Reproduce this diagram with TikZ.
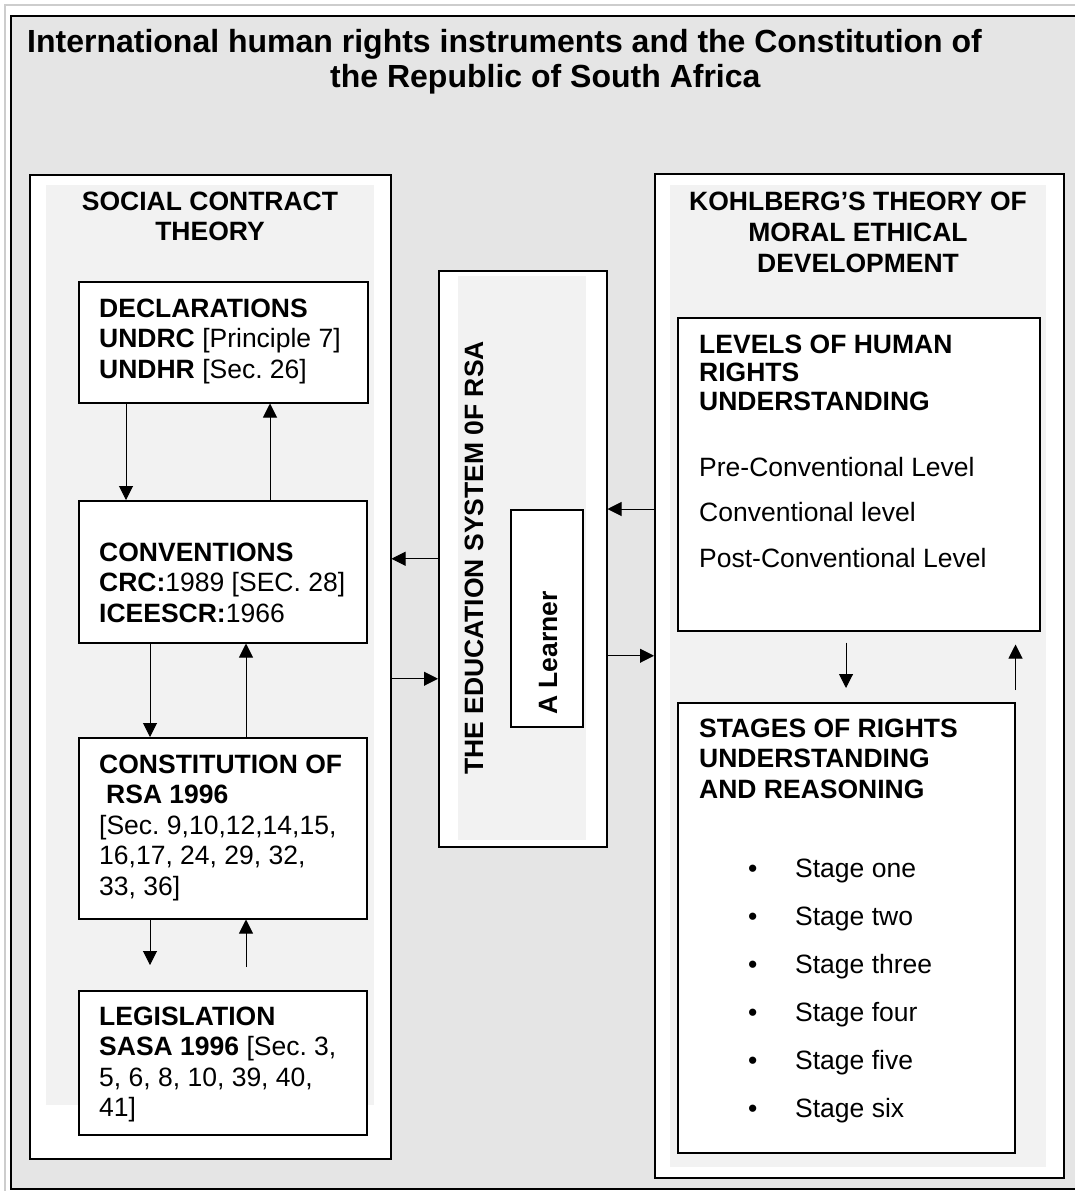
\documentclass[tikz,border=0pt]{standalone}
\usepackage{fontspec}
\setmainfont{Liberation Sans}
\usetikzlibrary{arrows.meta,calc}
\definecolor{bggray}{HTML}{E5E5E5}
\definecolor{panelgray}{HTML}{F2F2F2}
\definecolor{edgegray}{HTML}{CDCDCD}
\frenchspacing
\newcommand{\boxfont}{\fontsize{26.5}{30.5}\selectfont}
\tikzset{
  pin/.style={line width=1pt,-{Triangle[length=14pt,width=14pt]}},
  frame/.style={draw, line width=1.5pt, fill=white, anchor=north west, inner sep=0pt},
  panel/.style={fill=panelgray, anchor=north west, inner sep=0pt},
  txt/.style={anchor=base west, inner sep=0pt, align=left, font=\boxfont},
  head/.style={txt, anchor=base, align=center, font=\boxfont\bfseries},
}

\begin{document}
\begin{tikzpicture}[x=1pt,y=-1pt]
  \useasboundingbox (0,0) rectangle (1075,1191);
  \clip (0,0) rectangle (1075,1191);
  % page frame
  \draw[edgegray, line width=1.5pt] (5,5) rectangle (1090,1200);
  \draw[line width=1.5pt, fill=bggray] (11,16) rectangle (1090,1189);
  \node[txt, font=\fontsize{32}{34}\selectfont\bfseries] (title1) at (27,52)
    {International human rights instruments and the Constitution of};
  \node[txt, font=\fontsize{32}{34}\selectfont\bfseries] (title2) at (330,87)
    {the Republic of South Africa};

  % three columns
  \node[frame, minimum width=361pt, minimum height=984pt] (social) at (29,174) {};
  \node[panel, minimum width=328pt, minimum height=920pt] (socialbg) at (46,185) {};
  \node[frame, minimum width=168pt, minimum height=576pt] (edu) at (438,270) {};
  \node[panel, minimum width=128pt, minimum height=564pt] (edubg) at (458,276) {};
  \node[frame, minimum width=409pt, minimum height=1004pt] (kohl) at (654,173) {};
  \node[panel, minimum width=376pt, minimum height=982pt] (kohlbg) at (670,185) {};

  % social contract side (multi-line text sits on its last baseline)
  \node[head] (socialhd) at (210,240.5) {SOCIAL CONTRACT\\THEORY};
  \node[frame, minimum width=289pt, minimum height=121pt] (decl) at (78,281) {};
  \node[frame, minimum width=288pt, minimum height=142pt] (conv) at (78,500) {};
  \node[frame, minimum width=288pt, minimum height=181pt] (const) at (78,737) {};
  \node[frame, minimum width=288pt, minimum height=144pt] (legis) at (78,990) {};
  \node[txt] (decltx) at (99,378)
    {\textbf{DECLARATIONS}\\\textbf{UNDRC} [Principle 7]\\\textbf{UNDHR} [Sec. 26]};
  \node[txt] (convtx) at (99,622)
    {\textbf{CONVENTIONS}\\\textbf{CRC:}1989 [SEC. 28]\\\textbf{ICEESCR:}1966};
  \node[txt] (consttx) at (99,895)
    {\textbf{CONSTITUTION OF}\\\hspace*{7pt}\textbf{RSA 1996}\\{}[Sec. 9,10,12,14,15,\\16,17, 24, 29, 32,\\33, 36]};
  \node[txt] (legistx) at (99,1116.5)
    {\textbf{LEGISLATION}\\\textbf{SASA 1996} [Sec. 3,\\5, 6, 8, 10, 39, 40,\\41]};

  \draw[pin] ([xshift=48pt]decl.south west) -- ([xshift=48pt]conv.north west);
  \draw[pin] ([xshift=192pt]conv.north west) -- ([xshift=192pt]decl.south west);
  \draw[pin] ([xshift=72pt]conv.south west) -- ([xshift=72pt]const.north west);
  \draw[pin] ([xshift=168pt]const.north west) -- ([xshift=168pt]conv.south west);
  \draw[pin] ([xshift=72pt]const.south west) -- ([xshift=72pt,yshift=25pt]legis.north west);
  \draw[pin] ([xshift=168pt,yshift=23pt]legis.north west) -- ([xshift=168pt]const.south west);

  % education system in the middle
  \node[txt, anchor=base, rotate=90, font=\boxfont\bfseries] (edutx) at (483,558)
    {THE EDUCATION SYSTEM 0F RSA};
  \node[frame, minimum width=72pt, minimum height=217pt] (lrn) at (510,509) {};
  \node[txt, anchor=base, rotate=90, font=\boxfont\bfseries] (lrntx) at (557,653)
    {A Learner};

  \draw[pin] (edu.west) -- (edu.west -| social.east);
  \coordinate (toedu) at ($(edu.west)+(0,120)$);
  \draw[pin] (toedu -| social.east) -- (toedu);
  \draw[pin] (lrn.north -| kohl.west) -- (lrn.north -| edu.east);
  \coordinate (tokohl) at ($(edu.east)+(0,97)$);
  \draw[pin] (tokohl) -- (tokohl -| kohl.west);

  % Kohlberg side
  \node[head, font=\fontsize{26.5}{31}\selectfont\bfseries] (kohlhd) at (858,272)
    {KOHLBERG’S THEORY OF\\MORAL ETHICAL\\DEVELOPMENT};
  \node[frame, minimum width=362pt, minimum height=313pt] (levels) at (677,317) {};
  \node[frame, minimum width=337pt, minimum height=450pt] (stages) at (677,702) {};
  \node[txt, font=\fontsize{26.5}{28.5}\selectfont\bfseries] (levelshd) at (699,410)
    {LEVELS OF HUMAN\\RIGHTS\\UNDERSTANDING};
  \node[txt, font=\fontsize{26.5}{45.5}\selectfont] (levelstx) at (699,567)
    {Pre-Conventional Level\\Conventional level\\Post-Conventional Level};
  \node[txt, font=\boxfont\bfseries] (stageshd) at (699,798)
    {STAGES OF RIGHTS\\UNDERSTANDING\\AND REASONING};
  \foreach \name [count=\i from 0] in {one,two,three,four,five,six}
    \node[txt] (st\name) at (748,877+48*\i) {\makebox[47pt][l]{\textbullet}Stage \name};

  \draw[pin] ([xshift=169pt,yshift=-11pt]levels.south west) -- ([xshift=169pt,yshift=14pt]stages.north west);
  \draw[pin] ([yshift=12pt]stages.north east) -- ($(stages.north east |- levels.south)+(0,13)$);
\end{tikzpicture}
\end{document}
